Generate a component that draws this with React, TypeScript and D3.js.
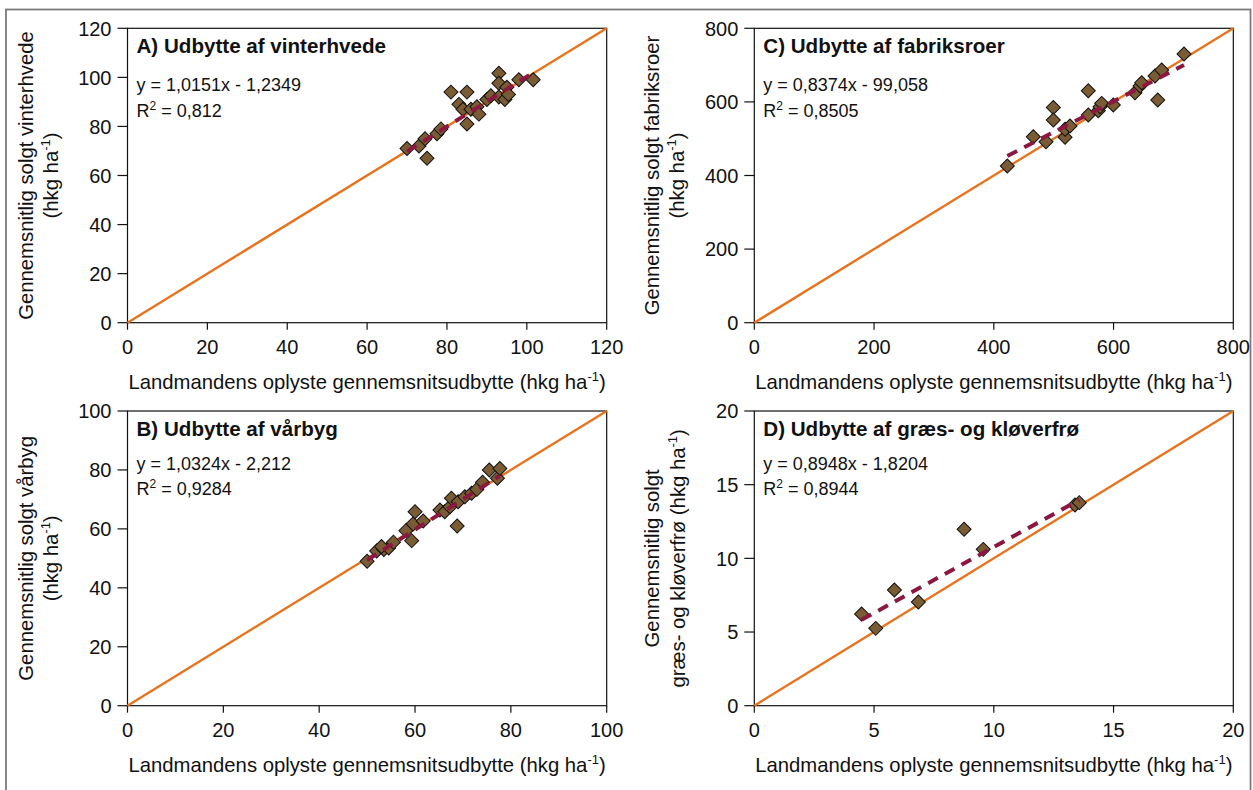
import React from 'react';
import * as d3 from 'd3';

// ---- data ----
const wheatReported = [70, 73, 74.5, 75, 77.5, 78.5, 81, 83, 84, 85, 85, 86, 87.5, 88, 90, 91, 93, 93, 93, 95, 94.5, 95.4, 98, 101.6];
const wheatSold = [71, 72, 75, 67, 77, 79, 94, 89, 87, 94, 81, 87, 88, 85, 91, 92.5, 101.7, 97.6, 92, 96, 91, 93, 99, 99];

const barleyReported = [50, 52, 53.5, 54.5, 55.5, 53, 58.1, 59.3, 59.6, 60, 61.7, 65.2, 66.2, 67.3, 67.6, 68.8, 69, 70.4, 71.8, 72.9, 74.1, 75.5, 77.2, 77.7];
const barleySold = [49, 52.5, 53, 53.5, 55.5, 54, 59.4, 56, 61.7, 65.8, 62.7, 66.4, 65.8, 67.5, 70.4, 61, 69.2, 70.9, 72.1, 73.4, 75.8, 80, 77.2, 80.5];

const beetReported = [422.6, 466, 487.2, 499.4, 499.4, 519, 519, 527.3, 557.8, 557.8, 574.5, 577.4, 580.2, 599.6, 635.8, 644.2, 647, 669.2, 673.8, 680.4, 717.7];
const beetSold = [425.8, 505.4, 491.8, 585, 550.8, 503.8, 525.5, 534.5, 564.4, 630.4, 576, 587, 596, 591.6, 625, 643.2, 652, 670.4, 605, 686.7, 730];

const seedReported = [4.48, 5.07, 5.85, 6.85, 8.76, 9.56, 13.39, 13.57];
const seedSold = [6.22, 5.25, 7.85, 7.04, 11.97, 10.61, 13.62, 13.78];

const wheatTicks = [0, 20, 40, 60, 80, 100, 120];
const barleyTicks = [0, 20, 40, 60, 80, 100];
const beetTicks = [0, 200, 400, 600, 800];
const seedTicks = [0, 5, 10, 15, 20];

const trendSlopes = [1.0151, 1.0324, 0.8374, 0.8948];
const trendIntercepts = [-1.2349, -2.212, 99.058, 1.8204];

const panelTitles = ['A) Udbytte af vinterhvede', 'B) Udbytte af vårbyg', 'C) Udbytte af fabriksroer', 'D) Udbytte af græs- og kløverfrø'];
const equationLabels = ['y = 1,0151x - 1,2349', 'y = 1,0324x - 2,212', 'y = 0,8374x - 99,058', 'y = 0,8948x - 1,8204'];
const r2Labels = ['0,812', '0,9284', '0,8505', '0,8944'];
const yTitleLines = [
  ['Gennemsnitlig solgt vinterhvede', ''],
  ['Gennemsnitlig solgt vårbyg', ''],
  ['Gennemsnitlig solgt fabriksroer', ''],
  ['Gennemsnitlig solgt', 'græs- og kløverfrø '],
];
const xTitle = 'Landmandens oplyste gennemsnitsudbytte (hkg ha';

// ---- layout ----
const FONT = '"Liberation Sans", Arial, Helvetica, sans-serif';
const ORANGE = '#E8731E';
const MAROON = '#8A1840';
const DIAMOND = '#7A5C34';
const TICK_FS = 20;
const AXIS_FS = 20.3;
const TITLE_FS = 20.6;
const EQ_FS = 18;

const boxes = [
  { left: 127.5, right: 606.7, top: 28.3, bottom: 322.7, eq: 63, r2: 89 },
  { left: 127.5, right: 606.7, top: 411, bottom: 705.7, eq: 59, r2: 84 },
  { left: 754.3, right: 1233.3, top: 28.3, bottom: 322.7, eq: 63, r2: 89 },
  { left: 754.3, right: 1233.3, top: 411, bottom: 705.7, eq: 59, r2: 84 },
];

const xsAll = [wheatReported, barleyReported, beetReported, seedReported];
const ysAll = [wheatSold, barleySold, beetSold, seedSold];
const ticksAll = [wheatTicks, barleyTicks, beetTicks, seedTicks];

const diamondPath = d3.symbol(d3.symbolSquare, 2 * 7 * 7)() as string;

function Panel({ i }: { i: number }) {
  const b = boxes[i];
  const ticks = ticksAll[i];
  const max = ticks[ticks.length - 1];
  const x = d3.scaleLinear().domain([0, max]).range([b.left, b.right]);
  const y = d3.scaleLinear().domain([0, max]).range([b.bottom, b.top]);
  const xs = xsAll[i];
  const ys = ysAll[i];
  const [xmin, xmax] = d3.extent(xs) as [number, number];
  const trend = (v: number) => trendSlopes[i] * v + trendIntercepts[i];
  const line = d3.line<[number, number]>().x(d => x(d[0])).y(d => y(d[1]));
  const cy = (b.top + b.bottom) / 2;
  const cx = (b.left + b.right) / 2;
  const yl = yTitleLines[i];
  return (
    <g>
      <rect x={b.left} y={b.top} width={b.right - b.left} height={b.bottom - b.top} fill="#fff" stroke="#111" strokeWidth={1.2} />
      {ticks.map(t => (
        <g key={'y' + t}>
          <line x1={b.left - 10} x2={b.left} y1={y(t)} y2={y(t)} stroke="#111" strokeWidth={1.2} />
          <text x={b.left - 16} y={y(t)} dy="0.36em" textAnchor="end" fontSize={TICK_FS} fontFamily={FONT} fill="#111">{t}</text>
        </g>
      ))}
      {ticks.map(t => (
        <g key={'x' + t}>
          <line x1={x(t)} x2={x(t)} y1={b.bottom} y2={b.bottom + 7} stroke="#111" strokeWidth={1.2} />
          <text x={x(t)} y={b.bottom + 31.5} textAnchor="middle" fontSize={TICK_FS} fontFamily={FONT} fill="#111">{t}</text>
        </g>
      ))}
      <path d={line([[0, 0], [max, max]]) as string} stroke={ORANGE} strokeWidth={2.4} fill="none" />
      {xs.map((v, k) => (
        <path key={k} d={diamondPath} transform={`translate(${x(v)},${y(ys[k])}) rotate(45)`} fill={DIAMOND} stroke="#111" strokeWidth={1} />
      ))}
      <path d={line([[xmin, trend(xmin)], [xmax, trend(xmax)]]) as string} stroke={MAROON} strokeWidth={4} strokeDasharray="11,8" fill="none" />
      <text x={b.left + 9} y={b.top + 25} fontSize={TITLE_FS} fontWeight="bold" fontFamily={FONT} fill="#111">{panelTitles[i]}</text>
      <text x={b.left + 9} y={b.top + b.eq} fontSize={EQ_FS} fontFamily={FONT} fill="#111">{equationLabels[i]}</text>
      <text x={b.left + 9} y={b.top + b.r2} fontSize={EQ_FS} fontFamily={FONT} fill="#111">
        R<tspan dy={-7} fontSize={12}>2</tspan><tspan dy={7}>{' = ' + r2Labels[i]}</tspan>
      </text>
      <text x={cx} y={b.bottom + 66} textAnchor="middle" fontSize={AXIS_FS} fontFamily={FONT} fill="#111">
        {xTitle}<tspan dy={-8} fontSize={13}>-1</tspan><tspan dy={8}>)</tspan>
      </text>
      <g transform={`translate(${b.left - 95},${cy}) rotate(-90)`}>
        <text x={0} y={0} textAnchor="middle" fontSize={AXIS_FS} fontFamily={FONT} fill="#111">{yl[0]}</text>
        <text x={0} y={yl[1] === '' ? 25 : 26} textAnchor="middle" fontSize={AXIS_FS} fontFamily={FONT} fill="#111">
          {yl[1]}(hkg ha<tspan dy={-8} fontSize={13}>-1</tspan><tspan dy={8}>)</tspan>
        </text>
      </g>
    </g>
  );
}

export default function App() {
  return (
    <svg width={1253} height={790} style={{ position: 'absolute', left: 0, top: 0, background: '#fff' }}>
      <rect x={0} y={0} width={1253} height={790} fill="#fff" />
      <rect x={6} y={9.5} width={1244.5} height={782} fill="none" stroke="#7a7a7a" strokeWidth={1.8} />
      {[0, 1, 2, 3].map(i => <Panel key={i} i={i} />)}
    </svg>
  );
}
